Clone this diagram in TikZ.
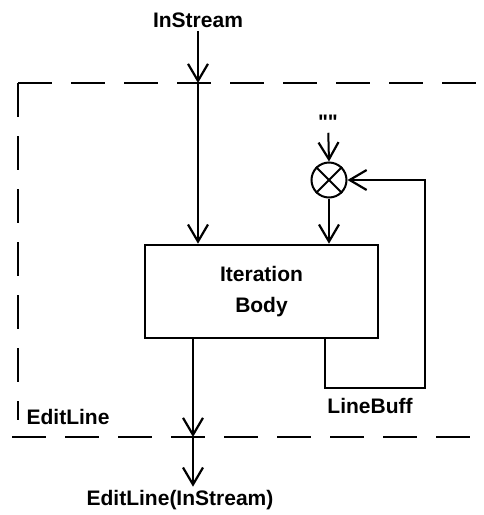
\documentclass[tikz,border=0pt]{standalone}
\usepackage{fontspec}
\setmainfont{Liberation Sans}
\newfontfamily\quotefont{Liberation Sans}[Ligatures=TeXOff]
\usetikzlibrary{arrows.meta}
\begin{document}
\begin{tikzpicture}[x=1pt,y=-1pt,
  every node/.style={font=\bfseries\fontsize{21}{25}\selectfont},
  wire/.style={line width=2pt},
  arr/.style={wire,-{Straight Barb[length=17pt,width=20pt,line width=2.2pt]}},
  frame/.style={line width=2pt,dash pattern=on 34pt off 19pt},
  bodybox/.style={draw,line width=2.6pt,minimum width=233pt,minimum height=93pt,align=center},
  mixer/.style={draw,circle,line width=2pt,minimum size=35pt,inner sep=0pt}]
\useasboundingbox (0,0) rectangle (483,515);
\draw[frame](18,83)--(483,83);
\draw[frame](18,83)--(18,420);
\draw[frame](12,437)--(483,437);
\node (in) at (198,20){InStream};
\node[bodybox] (body) at (261.5,291.5){Iteration\\[6pt]Body};
\node[mixer] (mix) at (329,180){};
\draw[wire](mix.north west)--(mix.south east);
\draw[wire](mix.north east)--(mix.south west);
\node (empty) at (328,122){\quotefont\bfseries""};
\node (out) at (180,500){EditLine(InStream)};
\node (edit) at (68,417){EditLine};
\coordinate (top) at (198,83);
\coordinate (bot) at (193,437);
\coordinate (lb1) at (325,388);
\coordinate (lb2) at (425,388);
\draw[arr](in)--(top);
\draw[arr](top)--(top |- body.north);
\draw[arr](empty)--(mix.north);
\draw[arr](mix.south)--(mix |- body.north);
\draw[arr](lb1 |- body.south)--(lb1)--(lb2) |- (mix.east);
\node (buff) at (370,406){LineBuff};
\draw[arr](bot |- body.south)--(bot);
\draw[arr](bot)--(bot |- out.north);
\end{tikzpicture}
\end{document}
